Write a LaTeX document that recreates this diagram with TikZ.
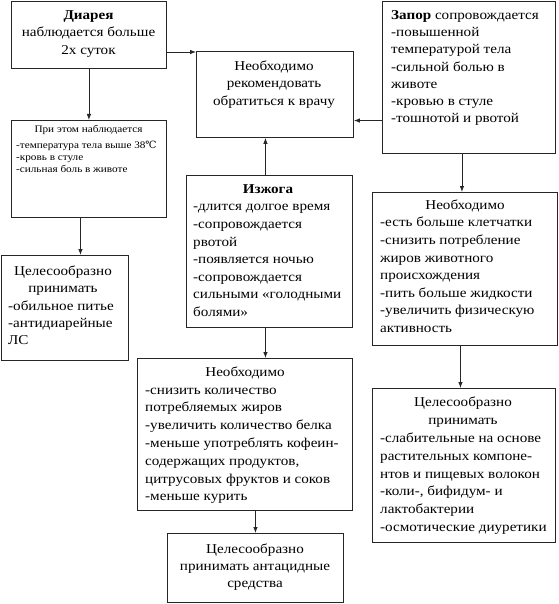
\documentclass[tikz,border=0pt]{standalone}
\usepackage{fontspec}
\setmainfont{Liberation Serif}[FakeStretch=1.12]
\newfontfamily\dejavu{DejaVu Serif}
\usetikzlibrary{arrows.meta,calc}
\newcommand\fl{\rule{0pt}{.9em}}
\begin{document}
\begin{tikzpicture}[x=1pt,y=-1pt,
  box/.style={draw=black!85, line width=0.9pt, inner sep=0, anchor=north west},
  arr/.style={-{Latex[length=6pt,width=4.5pt]}, line width=0.8pt, draw=black!85},
  fnt/.style={font=\fontsize{13.5}{#1}\selectfont},
  txt/.style={inner sep=0, align=left, anchor=north west, fnt=#1},
  ctxt/.style={inner sep=0, align=center, anchor=north, fnt=#1},
  hd/.style={inner sep=0, anchor=base, font=\fontsize{13.5}{17}\selectfont},
]
\useasboundingbox (0,0) rectangle (558,604);
\fill[white] (0,0) rectangle (558,604);

% boxes
\node[box, minimum width=155pt, minimum height=67pt] (diar) at (11,1) {};
\node[box, minimum width=157pt, minimum height=86pt] (vr) at (196,51) {};
\node[box, minimum width=173pt, minimum height=152pt] (zap) at (382,1) {};
\node[box, minimum width=155pt, minimum height=97pt] (pri) at (11,120) {};
\node[box, minimum width=127pt, minimum height=105pt] (cel1) at (1,255) {};
\node[box, minimum width=166pt, minimum height=152pt] (izh) at (186,175) {};
\node[box, minimum width=185pt, minimum height=153pt] (neobR) at (372,192) {};
\node[box, minimum width=215pt, minimum height=152pt] (neobM) at (137,358) {};
\node[box, minimum width=183pt, minimum height=154pt] (celR) at (372,388) {};
\node[box, minimum width=176pt, minimum height=69pt] (fin) at (167,533) {};

% texts
\node[ctxt=17.5] (tdiar) at (88.5,6.85) {\fl\textbf{Диарея}\\наблюдается больше\\2х суток};
\node[ctxt=17.5] (tvr) at (274,57.85) {\fl Необходимо\\рекомендовать\\обратиться к врачу};
\node[txt=17.3] (tzap) at (391,6.85) {\fl\textbf{Запор} сопровождается\\-повышенной\\температурой тела\\-сильной болью в\\животе\\-кровью в стуле\\-тошнотой и рвотой};

\node[inner sep=0, anchor=base, font=\fontsize{10}{12.5}\selectfont] (hpri) at (88.5,133) {При этом наблюдается};
\node[inner sep=0, align=left, anchor=north west, font=\fontsize{10}{12.2}\selectfont] (tpri) at (16,139) {\fl -температура тела выше 38{\dejavu ℃}\\-кровь в стуле\\-сильная боль в животе};

\node[ctxt=17] (hcel1) at (63,262.85) {\fl Целесообразно\\принимать};
\node[txt=17] (tcel1) at (8,297.85) {\fl -обильное питье\\-антидиарейные\\ЛС};

\node[hd] (hizh) at (268,193) {\textbf{Изжога}};
\node[txt=17.6] (tizh) at (193,198.45) {\fl -длится долгое время\\-сопровождается\\рвотой\\-появляется ночью\\-сопровождается\\сильными «голодными\\болями»};

\node[hd] (hneobR) at (465,209) {Необходимо};
\node[txt=17.6] (tneobR) at (380,214.45) {\fl -есть больше клетчатки\\-снизить потребление\\жиров животного\\происхождения\\-пить больше жидкости\\-увеличить физическую\\активность};

\node[hd] (hneobM) at (245,376) {Необходимо};
\node[txt=17.8] (tneobM) at (145,381.65) {\fl -снизить количество\\потребляемых жиров\\-увеличить количество белка\\-меньше употреблять кофеин-\\содержащих продуктов,\\цитрусовых фруктов и соков\\-меньше курить};

\node[ctxt=17.8] (hcelR) at (463,394.55) {\fl Целесообразно\\принимать};
\node[txt=17.8] (tcelR) at (380,430.15) {\fl -слабительные на основе\\растительных компоне-\\нтов и пищевых волокон\\-коли-, бифидум- и\\лактобактерии\\-осмотические диуретики};

\node[ctxt=17] (tfin) at (255,540.85) {\fl Целесообразно\\принимать антацидные\\средства};

% connectors
\draw[arr] ([yshift=-1pt]diar.east |- vr.north west) -- ([yshift=-1pt]vr.north west);
\coordinate (vrin) at ($(vr.north east)!0.8!(vr.south east)$);
\draw[arr] (zap.west |- vrin) -- (vrin);
\draw[arr] ([xshift=-4pt]izh.north) -- ([xshift=-4pt]izh.north |- vr.south);
\draw[arr] (diar.south) -- (pri.north);
\draw[arr] ([xshift=-8.5pt]pri.south) -- ([xshift=-8.5pt]pri.south |- cel1.north);
\draw[arr] ([xshift=-7pt]zap.south) -- ([xshift=-7pt]zap.south |- neobR.north);
\draw[arr] ([xshift=-4.5pt]neobR.south) -- ([xshift=-4.5pt]neobR.south |- celR.north);
\draw[arr] ([xshift=-4pt]izh.south) -- ([xshift=-4pt]izh.south |- neobM.north);
\draw[arr] (fin.north |- neobM.south) -- (fin.north);
\end{tikzpicture}
\end{document}
